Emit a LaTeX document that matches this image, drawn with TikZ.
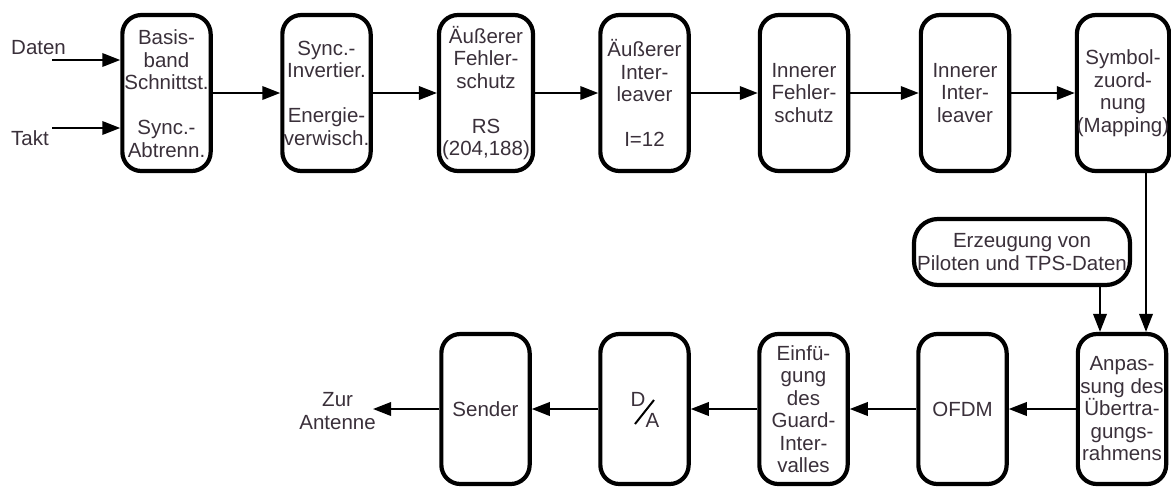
\documentclass[tikz,border=0pt]{standalone}
\usepackage{fontspec}
\setmainfont{Liberation Sans}
\usetikzlibrary{arrows.meta}
\definecolor{txt}{RGB}{58,48,58}
\tikzset{
  box/.style={draw=black, line width=4.2pt, rounded corners=19pt, minimum width=88.3pt,
    align=center, text=txt, inner sep=0pt, font=\fontsize{20.5}{22.5}\selectfont},
  toprow/.style={box, minimum height=156pt},
  botrow/.style={box, minimum height=150pt},
  lbl/.style={text=txt, align=center, inner sep=0pt, font=\fontsize{20.5}{22.5}\selectfont},
  arr/.style={line width=2pt, -{Triangle[length=18pt,width=13.5pt]}},
}
\begin{document}
\begin{tikzpicture}[x=1pt,y=-1pt]
\useasboundingbox (0,0) rectangle (1171,488);
% top row
\node[toprow] (b1) at (166.5,93) {\\[-6pt]Basis-\\band\\Schnittst.\\[22.5pt]Sync.-\\Abtrenn.};
\node[toprow] (b2) at (326.5,93) {Sync.-\\Invertier.\\[22.5pt]Energie-\\verwisch.};
\node[toprow, minimum width=94pt] (b3) at (486,93) {Äußerer\\Fehler-\\schutz\\[22.5pt]RS\\(204,188)};
\node[toprow] (b4) at (644.5,93) {Äußerer\\Inter-\\leaver\\[22.5pt]I=12};
\node[toprow] (b5) at (804,93) {Innerer\\Fehler-\\schutz};
\node[toprow] (b6) at (965,93) {Innerer\\Inter-\\leaver};
\node[toprow] (b7) at (1123,93) {Symbol-\\zuord-\\nung\\(Mapping)};
% bottom row
\node[botrow] (b8) at (1122,409) {Anpas-\\sung des\\Übertra-\\gungs-\\rahmens};
\node[botrow] (b9) at (962.5,409) {OFDM};
\node[botrow] (b10) at (803.5,409) {Einfü-\\gung\\des\\Guard-\\Inter-\\valles};
\node[botrow] (b11) at (644.5,409) {};
\node[botrow] (b12) at (485.5,409) {Sender};
% pilot box
\node[box, rounded corners=24pt, minimum width=216pt, minimum height=66pt] (erz) at (1022,252) {Erzeugung von\\Piloten und TPS-Daten};
% D/A label
\node[lbl] (dD) at (638,399.5) {D};
\node[lbl] (dA) at (652.5,420.5) {A};
\draw[line width=2pt] (635,424) -- (654,400);
% inputs
\node[lbl, anchor=west] (daten) at (11,48) {Daten};
\node[lbl, anchor=west] (takt) at (11,138) {Takt};
\coordinate (din) at (52,60);
\coordinate (tin) at (52,128);
\draw[arr] (din) -- (din -| b1.west);
\draw[arr] (tin) -- (tin -| b1.west);
% top chain
\draw[arr] (b1) -- (b2);
\draw[arr] (b2) -- (b3);
\draw[arr] (b3) -- (b4);
\draw[arr] (b4) -- (b5);
\draw[arr] (b5) -- (b6);
\draw[arr] (b6) -- (b7);
% down links
\coordinate (vx) at (1146,0);
\coordinate (px) at (1100,0);
\draw[arr] (b7.south -| vx) -- (b8.north -| vx);
\draw[arr] (erz.south -| px) -- (b8.north -| px);
% bottom chain
\draw[arr] (b8) -- (b9);
\draw[arr] (b9) -- (b10);
\draw[arr] (b10) -- (b11);
\draw[arr] (b11) -- (b12);
\coordinate (ant) at (373,409);
\draw[arr] (b12.west) -- (ant);
\node[lbl, anchor=east] (zur) at (376,411) {Zur\\Antenne};
\end{tikzpicture}
\end{document}
